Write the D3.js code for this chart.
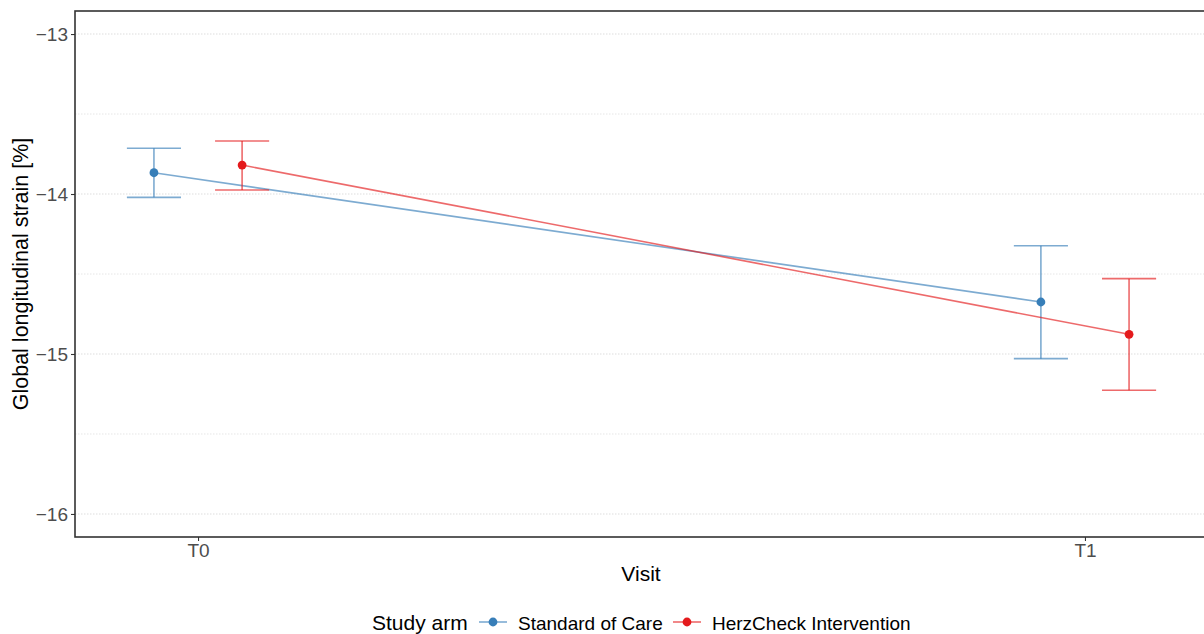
<!DOCTYPE html>
<html>
<head>
<meta charset="utf-8">
<script src="https://cdn.jsdelivr.net/npm/d3@7"></script>
<style>
  html, body { margin: 0; padding: 0; background: #fff; }
  svg { display: block; font-family: "Liberation Sans", Arial, Helvetica, sans-serif; }
</style>
</head>
<body>
<svg id="chart" width="1204" height="634"></svg>
<script>
// Visits on the x axis
const visits = ["T0", "T1"];
// Study arms
const arms = ["Standard of Care", "HerzCheck Intervention"];
const armColors = ["#377EB8", "#E41A1C"];
// Mean GLS per arm and visit, with lower / upper bounds of the error bars
const careMean  = [-13.867, -14.675];
const careLow   = [-14.021, -15.029];
const careHigh  = [-13.714, -14.323];
const herzMean  = [-13.819, -14.877];
const herzLow   = [-13.975, -15.227];
const herzHigh  = [-13.669, -14.529];
// Y axis ticks
const yTicks = [-13, -14, -15, -16];
const yMinor = [-13.5, -14.5, -15.5];

const series = [
  { arm: arms[0], color: armColors[0], offset: -1, mean: careMean, low: careLow, high: careHigh },
  { arm: arms[1], color: armColors[1], offset: 1, mean: herzMean, low: herzLow, high: herzHigh }
];

const svg = d3.select("#chart");
const panel = { left: 75, top: 11, right: 1208, bottom: 537 };

const x = d3.scaleLinear().domain([-0.1387, 1.1387]).range([panel.left, panel.right]);
const y = d3.scaleLinear().domain([-16.144, -12.856]).range([panel.bottom, panel.top]);
const dodge = 0.0497;
const capHalf = 0.0305;

const g = svg.append("g");

// grid lines
g.selectAll("line.minor").data(yMinor).join("line")
  .attr("x1", panel.left).attr("x2", panel.right)
  .attr("y1", d => y(d)).attr("y2", d => y(d))
  .attr("stroke", "#e6e6e6").attr("stroke-width", 1).attr("stroke-dasharray", "1.5,1.5");
g.selectAll("line.major").data(yTicks).join("line")
  .attr("x1", panel.left).attr("x2", panel.right)
  .attr("y1", d => y(d)).attr("y2", d => y(d))
  .attr("stroke", "#dedede").attr("stroke-width", 1.1).attr("stroke-dasharray", "1.5,1.5");

// series lines, error bars and points
series.forEach(s => {
  const pts = visits.map((v, i) => ({ i, m: s.mean[i], lo: s.low[i], hi: s.high[i], xv: i + s.offset * dodge }));
  const line = d3.line().x(d => x(d.xv)).y(d => y(d.m));
  const sg = g.append("g").attr("class", "series");
  sg.append("path").datum(pts).attr("d", line)
    .attr("fill", "none").attr("stroke", s.color).attr("stroke-opacity", 0.65).attr("stroke-width", 1.6);
  pts.forEach(p => {
    const eb = sg.append("g").attr("stroke", s.color).attr("stroke-opacity", 0.65).attr("stroke-width", 1.6);
    eb.append("line").attr("x1", x(p.xv)).attr("x2", x(p.xv)).attr("y1", y(p.lo)).attr("y2", y(p.hi));
    eb.append("line").attr("x1", x(p.xv - capHalf)).attr("x2", x(p.xv + capHalf)).attr("y1", y(p.lo)).attr("y2", y(p.lo));
    eb.append("line").attr("x1", x(p.xv - capHalf)).attr("x2", x(p.xv + capHalf)).attr("y1", y(p.hi)).attr("y2", y(p.hi));
  });
  sg.selectAll("circle").data(pts).join("circle")
    .attr("cx", d => x(d.xv)).attr("cy", d => y(d.m)).attr("r", 4.4).attr("fill", s.color);
});

// panel border
g.append("rect")
  .attr("x", panel.left).attr("y", panel.top)
  .attr("width", panel.right - panel.left).attr("height", panel.bottom - panel.top)
  .attr("fill", "none").attr("stroke", "#333").attr("stroke-width", 1.6);

// y axis
const yAxis = d3.axisLeft(y).tickValues(yTicks).tickSize(4).tickPadding(3)
  .tickFormat(d => d3.format("d")(d).replace("-", "\u2212"));
const ya = svg.append("g").attr("transform", `translate(${panel.left},0)`).call(yAxis);
ya.attr("font-family", null).attr("font-size", null);
ya.select(".domain").remove();
ya.selectAll(".tick line").attr("stroke", "#333").attr("stroke-width", 1.1);
ya.selectAll(".tick text").attr("fill", "#4d4d4d").attr("font-size", 19);

// x axis
const xAxis = d3.axisBottom(x).tickValues([0, 1]).tickSize(4).tickPadding(3)
  .tickFormat(d => visits[d]);
const xa = svg.append("g").attr("transform", `translate(0,${panel.bottom})`).call(xAxis);
xa.attr("font-family", null).attr("font-size", null);
xa.select(".domain").remove();
xa.selectAll(".tick line").attr("stroke", "#333").attr("stroke-width", 1.1);
xa.selectAll(".tick text").attr("fill", "#4d4d4d").attr("font-size", 19);

// axis titles
svg.append("text").attr("x", 641).attr("y", 581)
  .attr("text-anchor", "middle").attr("font-size", 21).attr("fill", "#000").text("Visit");
svg.append("text")
  .attr("transform", `translate(28,${(panel.top + panel.bottom) / 2}) rotate(-90)`)
  .attr("text-anchor", "middle").attr("font-size", 21.5).attr("fill", "#000")
  .text("Global longitudinal strain [%]");

// legend
const leg = svg.append("g").attr("transform", "translate(372,630)");
leg.append("text").attr("x", 0).attr("y", 0).attr("font-size", 21).attr("fill", "#000").text("Study arm");
const keyX = [107, 301];
series.forEach((s, i) => {
  const k = leg.append("g").attr("transform", `translate(${keyX[i]},-8)`);
  k.append("line").attr("x1", 0).attr("x2", 28).attr("y1", 0).attr("y2", 0)
    .attr("stroke", s.color).attr("stroke-opacity", 0.65).attr("stroke-width", 1.6);
  k.append("circle").attr("cx", 14).attr("cy", 0).attr("r", 4.4).attr("fill", s.color);
  leg.append("text").attr("x", keyX[i] + 39).attr("y", 0).attr("font-size", 19).attr("fill", "#000").text(s.arm);
});
</script>
</body>
</html>
